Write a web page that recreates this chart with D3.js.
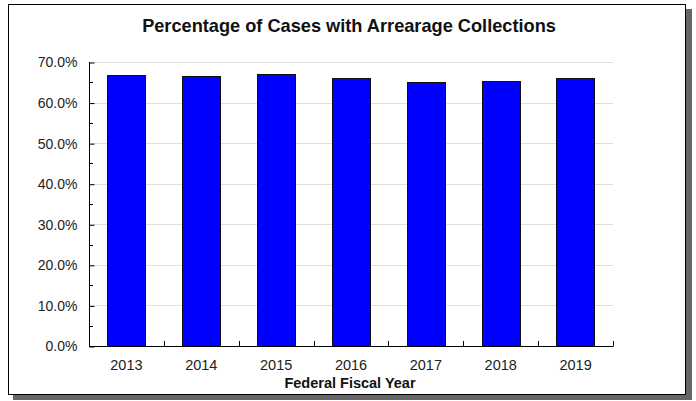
<!DOCTYPE html>
<html><head><meta charset="utf-8">
<script src="https://cdn.jsdelivr.net/npm/d3@7"></script>
<style>body{margin:0;background:#fff}svg{display:block}</style>
</head><body>
<svg id="c" width="696" height="401"></svg>
<script>
const years = ["2013","2014","2015","2016","2017","2018","2019"];
const values = [66.8, 66.5, 67.0, 66.0, 65.1, 65.4, 66.0];
const yTicks = [0,10,20,30,40,50,60,70];
const title = "Percentage of Cases with Arrearage Collections";
const xTitle = "Federal Fiscal Year";

const svg = d3.select("#c");
const font = "'Liberation Sans', Arial, sans-serif";
// shadow + frame
svg.append("rect").attr("x",13).attr("y",9).attr("width",679).attr("height",391).attr("fill","#666");
svg.append("rect").attr("x",8.5).attr("y",4.5).attr("width",677).attr("height",390).attr("fill","#fff").attr("stroke","#000").attr("stroke-width",1);

const m = {l:89, r:613, t:62, b:346};
const x = d3.scaleBand().domain(years).range([m.l,m.r]).paddingInner(0.49).paddingOuter(0.245);
const y = d3.scaleLinear().domain([0,70]).range([m.b,m.t]);

// gridlines
svg.append("g").selectAll("line").data(yTicks.filter(d=>d>0)).join("line")
  .attr("x1",m.l).attr("x2",m.r).attr("y1",d=>Math.round(y(d))+0.5).attr("y2",d=>Math.round(y(d))+0.5)
  .attr("stroke","#e0e0e0").attr("stroke-width",1);

// bars
svg.append("g").selectAll("rect").data(values).join("rect")
  .attr("x",(d,i)=>Math.round(x(years[i]))+0.5).attr("width",Math.round(x.bandwidth()))
  .attr("y",d=>Math.round(y(d))+0.5).attr("height",d=>m.b-Math.round(y(d)))
  .attr("fill","#0000ff").attr("stroke","#111").attr("stroke-width",1);

// y axis
const yAxis = d3.axisLeft(y).tickValues(yTicks).tickFormat(d=>d.toFixed(1)+"%").tickSize(-5).tickPadding(12);
const gy = svg.append("g").attr("transform",`translate(${m.l+0.5},0.5)`).call(yAxis);
gy.select(".domain").remove();
gy.selectAll("text").attr("font-family",font).attr("font-size",14).attr("fill","#222");
gy.selectAll("line").attr("stroke","#000");
// minor ticks
svg.append("g").selectAll("line").data(d3.range(5,70,10)).join("line")
  .attr("x1",m.l).attr("x2",m.l+4).attr("y1",d=>Math.round(y(d))+0.5).attr("y2",d=>Math.round(y(d))+0.5)
  .attr("stroke","#000");
svg.append("line").attr("x1",m.l+0.5).attr("x2",m.l+0.5).attr("y1",m.t).attr("y2",m.b+0.5).attr("stroke","#000");

// x axis
const xAxis = d3.axisBottom(x).tickSize(0).tickPadding(13);
const gx = svg.append("g").attr("transform",`translate(0,${m.b+0.5})`).call(xAxis);
gx.select(".domain").remove();
gx.selectAll("text").attr("font-family",font).attr("font-size",14.5).attr("fill","#222");
svg.append("line").attr("x1",m.l).attr("x2",m.r+0.5).attr("y1",m.b+0.5).attr("y2",m.b+0.5).attr("stroke","#000");
const bounds = d3.range(1,years.length+1).map(i=>m.l+i*(m.r-m.l)/years.length);
svg.append("g").selectAll("line").data(bounds).join("line")
  .attr("x1",d=>Math.round(d)+0.5).attr("x2",d=>Math.round(d)+0.5).attr("y1",m.b-5).attr("y2",m.b)
  .attr("stroke","#000");

// titles
svg.append("text").attr("x",349).attr("y",32).attr("text-anchor","middle")
  .attr("font-family",font).attr("font-size",18.2).attr("font-weight","bold").attr("fill","#111").text(title);
svg.append("text").attr("x",350).attr("y",388).attr("text-anchor","middle")
  .attr("font-family",font).attr("font-size",14.5).attr("font-weight","bold").attr("fill","#111").text(xTitle);
</script>
</body></html>
